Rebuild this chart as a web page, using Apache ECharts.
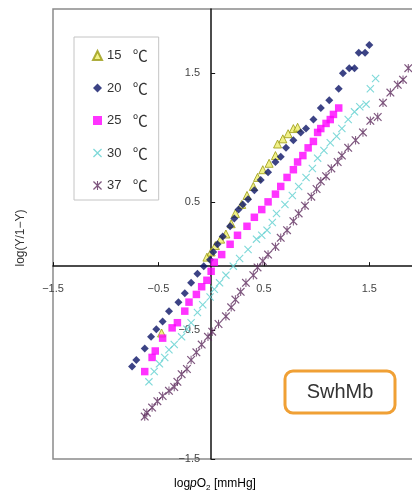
<!DOCTYPE html>
<html>
<head>
<meta charset="utf-8">
<script src="https://cdn.jsdelivr.net/npm/echarts@6/dist/echarts.min.js"></script>
<style>
  html, body { margin: 0; padding: 0; background: #fff; }
  #chart { width: 412px; height: 495px; }
</style>
</head>
<body>
<div id="chart"></div>
<script>
// [log pO2, log(Y/1-Y)] per temperature
var t15 = [[-0.47, -0.52], [-0.04, 0.07], [0.00, 0.11], [0.04, 0.16], [0.09, 0.21], [0.14, 0.25], [0.19, 0.33], [0.23, 0.41], [0.29, 0.48], [0.34, 0.55], [0.40, 0.62], [0.44, 0.69], [0.49, 0.75], [0.55, 0.80], [0.61, 0.86], [0.63, 0.95], [0.68, 0.99], [0.73, 1.03], [0.78, 1.07], [0.82, 1.08]]
var t20 = [[-0.75, -0.78], [-0.71, -0.73], [-0.63, -0.64], [-0.57, -0.55], [-0.52, -0.49], [-0.46, -0.43], [-0.40, -0.35], [-0.31, -0.28], [-0.25, -0.21], [-0.19, -0.13], [-0.13, -0.06], [-0.07, 0.00], [-0.01, 0.05], [0.02, 0.11], [0.06, 0.17], [0.11, 0.23], [0.18, 0.31], [0.22, 0.37], [0.26, 0.44], [0.30, 0.48], [0.35, 0.52], [0.41, 0.59], [0.47, 0.67], [0.54, 0.73], [0.61, 0.81], [0.66, 0.85], [0.71, 0.92], [0.78, 0.98], [0.85, 1.04], [0.90, 1.07], [0.97, 1.14], [1.04, 1.23], [1.12, 1.29], [1.21, 1.38], [1.25, 1.50], [1.31, 1.54], [1.36, 1.54], [1.40, 1.66], [1.46, 1.66], [1.50, 1.72]]
var t25 = [[-0.63, -0.82], [-0.56, -0.71], [-0.53, -0.66], [-0.46, -0.56], [-0.37, -0.48], [-0.32, -0.44], [-0.25, -0.35], [-0.21, -0.28], [-0.14, -0.22], [-0.09, -0.16], [-0.04, -0.11], [0.00, -0.04], [0.03, 0.03], [0.10, 0.09], [0.18, 0.17], [0.25, 0.24], [0.34, 0.31], [0.41, 0.38], [0.48, 0.44], [0.54, 0.50], [0.61, 0.56], [0.66, 0.62], [0.72, 0.69], [0.78, 0.75], [0.82, 0.81], [0.87, 0.86], [0.92, 0.92], [0.97, 0.97], [1.01, 1.04], [1.04, 1.07], [1.09, 1.11], [1.13, 1.14], [1.16, 1.18], [1.21, 1.23]]
var t30 = [[-0.59, -0.90], [-0.54, -0.82], [-0.49, -0.76], [-0.44, -0.71], [-0.40, -0.65], [-0.35, -0.61], [-0.28, -0.55], [-0.23, -0.49], [-0.19, -0.44], [-0.13, -0.36], [-0.08, -0.30], [-0.01, -0.24], [0.03, -0.18], [0.08, -0.13], [0.14, -0.07], [0.21, 0.00], [0.27, 0.06], [0.35, 0.13], [0.43, 0.21], [0.48, 0.24], [0.53, 0.28], [0.58, 0.34], [0.62, 0.41], [0.70, 0.48], [0.77, 0.55], [0.83, 0.62], [0.90, 0.69], [0.96, 0.76], [1.01, 0.84], [1.07, 0.90], [1.13, 0.96], [1.19, 1.01], [1.24, 1.07], [1.30, 1.14], [1.36, 1.20], [1.41, 1.24], [1.47, 1.26], [1.51, 1.38], [1.56, 1.46]]
var t37 = [[-0.63, -1.17], [-0.61, -1.14], [-0.56, -1.10], [-0.51, -1.05], [-0.46, -1.01], [-0.40, -0.97], [-0.35, -0.94], [-0.32, -0.90], [-0.28, -0.84], [-0.23, -0.80], [-0.19, -0.73], [-0.14, -0.67], [-0.09, -0.61], [-0.03, -0.55], [0.01, -0.51], [0.07, -0.45], [0.14, -0.39], [0.19, -0.32], [0.23, -0.26], [0.28, -0.20], [0.33, -0.13], [0.40, -0.07], [0.44, -0.01], [0.49, 0.04], [0.54, 0.09], [0.61, 0.15], [0.66, 0.22], [0.72, 0.28], [0.78, 0.35], [0.83, 0.41], [0.89, 0.47], [0.95, 0.54], [1.00, 0.60], [1.04, 0.66], [1.09, 0.70], [1.14, 0.76], [1.20, 0.81], [1.24, 0.86], [1.30, 0.92], [1.37, 0.98], [1.44, 1.04], [1.51, 1.13], [1.58, 1.16], [1.63, 1.27], [1.70, 1.35], [1.77, 1.41], [1.82, 1.45], [1.87, 1.54]]

var names = ['15 ℃', '20 ℃', '25 ℃', '30 ℃', '37 ℃']
var tickValues = [-1.5, -0.5, 0.5, 1.5]

var crossPath = 'path://M1,0 L5,4 L9,0 L10,1 L6,5 L10,9 L9,10 L5,6 L1,10 L0,9 L4,5 L0,1 Z'
var starPath = 'path://M1,0 L5,4 L9,0 L10,1 L6,5 L10,9 L9,10 L5,6 L1,10 L0,9 L4,5 L0,1 Z M4.4,0 L5.6,0 L5.6,10 L4.4,10 Z'

var FONT = 'Liberation Sans, Arial, sans-serif'
var gridLeft = 53, gridTop = 9, gridBottom = 36

function fmt(v) {
  return v < 0 ? '−' + Math.abs(v) : String(v)
}

var chart = echarts.init(document.getElementById('chart'))

chart.setOption({
  animation: false,
  textStyle: { fontFamily: FONT },
  grid: {
    left: gridLeft, top: gridTop, right: -10, bottom: gridBottom,
    show: true,
    borderColor: '#8a8a8a',
    borderWidth: 1.5,
    outerBoundsMode: 'none'
  },
  legend: {
    orient: 'vertical',
    left: 74,
    top: 37,
    padding: [11, 11, 7, 18],
    itemWidth: 9,
    itemHeight: 9,
    itemGap: 17.5,
    backgroundColor: '#fff',
    borderColor: '#c4c4c4',
    borderWidth: 1,
    textStyle: {
      fontSize: 13,
      color: '#333',
      rich: { c: { fontSize: 15, color: '#333', fontFamily: 'Noto Sans CJK JP', padding: [0, 0, 0, 4] } }
    },
    formatter: function (name) {
      var p = name.split(' ')
      return p[0] + '  {c|' + p[1] + '}'
    },
    data: names
  },
  xAxis: {
    type: 'value',
    min: -1.5,
    max: 2,
    axisLine: { onZero: false, lineStyle: { color: '#111', width: 1.5 } },
    axisTick: { inside: true, length: 4, customValues: tickValues, lineStyle: { color: '#111' } },
    axisLabel: { customValues: tickValues, margin: 17, fontSize: 11, color: '#444', formatter: fmt },
    splitLine: { show: false }
  },
  yAxis: {
    type: 'value',
    min: -1.5,
    max: 2,
    axisLine: { onZero: false, lineStyle: { color: '#111', width: 1.5 } },
    axisTick: { inside: true, length: 4, customValues: tickValues, lineStyle: { color: '#111' } },
    axisLabel: { customValues: tickValues, margin: 11, fontSize: 11, color: '#444', formatter: fmt },
    splitLine: { show: false }
  },
  graphic: [
    {
      type: 'text',
      x: 21, y: 238,
      rotation: Math.PI / 2,
      style: { text: 'log(Y/1−Y)', fontSize: 12, fill: '#333', align: 'center', verticalAlign: 'middle', fontFamily: FONT }
    },
    {
      type: 'text',
      x: 215, y: 484,
      style: {
        text: '{n|log}{i|p}{n|O}{s|2}{n| [mmHg]}',
        align: 'center',
        verticalAlign: 'middle',
        rich: {
          n: { fontSize: 12, color: '#333', lineHeight: 16, verticalAlign: 'middle', fontFamily: FONT },
          i: { fontSize: 12, color: '#333', fontStyle: 'italic', lineHeight: 16, verticalAlign: 'middle', fontFamily: FONT },
          s: { fontSize: 8, color: '#333', lineHeight: 16, verticalAlign: 'bottom', fontFamily: FONT }
        }
      }
    },
    {
      type: 'rect',
      shape: { x: 285, y: 371, width: 110, height: 42, r: 8 },
      style: { fill: '#fff', stroke: '#f0a035', lineWidth: 3 }
    },
    {
      type: 'text',
      x: 340, y: 392,
      style: { text: 'SwhMb', fontSize: 20, fill: '#333', align: 'center', verticalAlign: 'middle', fontFamily: FONT }
    }
  ],
  series: [
    {
      name: names[0], type: 'scatter', data: t15,
      symbol: 'triangle', symbolSize: 8,
      itemStyle: { color: '#eded6a', borderColor: '#9a9a10', borderWidth: 1 }
    },
    {
      name: names[1], type: 'scatter', data: t20,
      symbol: 'diamond', symbolSize: 8,
      itemStyle: { color: '#0b1466' }
    },
    {
      name: names[2], type: 'scatter', data: t25,
      symbol: 'rect', symbolSize: 7.5,
      itemStyle: { color: '#ff00ff' }
    },
    {
      name: names[3], type: 'scatter', data: t30,
      symbol: crossPath, symbolSize: 8,
      itemStyle: { color: '#5fcfcf' }
    },
    {
      name: names[4], type: 'scatter', data: t37,
      symbol: starPath, symbolSize: 8.5,
      itemStyle: { color: '#5e2c5e' }
    }
  ]
})

// move both axes (line, ticks, labels) so they cross at the origin
var origin = chart.convertToPixel({ gridIndex: 0 }, [0, 0])
chart.setOption({
  xAxis: { offset: -((chart.getHeight() - gridBottom) - origin[1]) },
  yAxis: { offset: -(origin[0] - gridLeft) }
})
</script>
</body>
</html>
